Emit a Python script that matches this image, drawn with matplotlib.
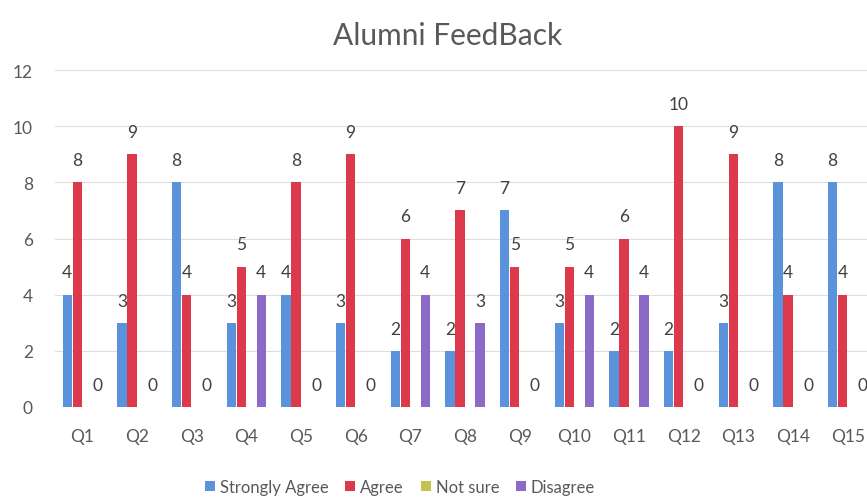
import numpy as np
import matplotlib.pyplot as plt

questions = ['Q%d' % i for i in range(1, 16)]
series_names = ['Strongly Agree', 'Agree', 'Not sure', 'Disagree']
strongly_agree = [4, 3, 8, 3, 4, 3, 2, 2, 7, 3, 2, 2, 3, 8, 8]
agree = [8, 9, 4, 5, 8, 9, 6, 7, 5, 5, 6, 10, 9, 4, 4]
not_sure = [None] * 15  # no responses entered for this column
disagree = [0, 0, 0, 4, 0, 0, 4, 3, 0, 4, 4, 0, 0, 0, 0]

colors = ['#5a93dc', '#dc3a4c', '#c6c24e', '#8c6bc8']
text_grey = '#595959'
label_grey = '#404040'

plt.rcParams['font.family'] = ['Lato', 'DejaVu Sans']

W, H = 867, 502
fig = plt.figure(figsize=(W / 100, H / 100), dpi=100)
ax = fig.add_axes([55 / W, (H - 408) / H, 820 / W, 337 / H])

x = np.arange(len(questions))
slot = 0.183
bar_w = 0.165
all_series = [strongly_agree, agree, not_sure, disagree]
for k, (vals, name, col) in enumerate(zip(all_series, series_names, colors)):
    pos = x + (k - 1.5) * slot
    heights = [0 if v is None else v for v in vals]
    ax.bar(pos, heights, width=bar_w, color=col, label=name, zorder=3)
    for p, v in zip(pos, vals):
        if v is None:
            continue
        ax.annotate(str(v), (p, v), xytext=(0, 16), textcoords='offset points',
                    ha='center', va='center', fontsize=12.5, color=label_grey, zorder=4)

ax.set_xlim(-0.5, len(questions) - 0.5)
ax.set_ylim(0, 12)
ax.set_yticks(range(0, 13, 2))
ax.set_xticks(x)
ax.set_xticklabels(questions)
ax.tick_params(axis='both', length=0, labelsize=12.5, colors=text_grey)
ax.tick_params(axis='y', pad=16)
ax.tick_params(axis='x', pad=15)
ax.grid(axis='y', color='#dedede', linewidth=0.8, zorder=0)
for s in ax.spines.values():
    s.set_visible(False)

fig.text(448 / W, 1 - 36 / H, 'Alumni FeedBack', ha='center', va='center',
         fontsize=21.5, color=text_grey)

leg = fig.legend(loc='center', bbox_to_anchor=(400 / W, 1 - 488 / H), ncol=4,
                 frameon=False, fontsize=12, handlelength=0.6, handleheight=0.6,
                 handletextpad=0.3, columnspacing=1.0, labelcolor=text_grey)

fig.savefig('out.png', dpi=100)
